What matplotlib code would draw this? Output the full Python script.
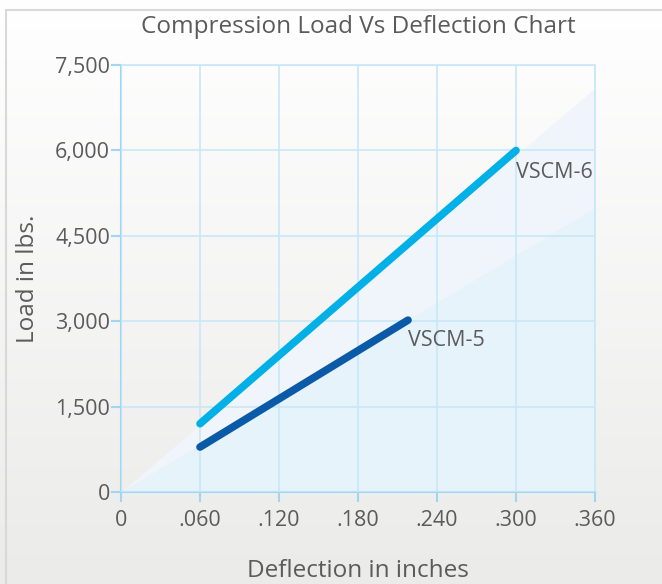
import numpy as np
import matplotlib
matplotlib.use('Agg')
import matplotlib.pyplot as plt
from matplotlib.patches import Rectangle

plt.rcParams['font.family'] = ['Open Sans', 'DejaVu Sans']

# data
series_names = ['VSCM-6', 'VSCM-5']
vscm6_x = [0.060, 0.300]
vscm6_y = [1200, 6000]
vscm5_x = [0.060, 0.218]
vscm5_y = [790, 3020]
band_x = [0, 0.360]
band_upper = [0, 7100]
band_lower = [0, 5000]
x_ticks = [0, 0.060, 0.120, 0.180, 0.240, 0.300, 0.360]
x_labels = ['0', '.060', '.120', '.180', '.240', '.300', '.360']
y_ticks = [0, 1500, 3000, 4500, 6000, 7500]
y_labels = ['0', '1,500', '3,000', '4,500', '6,000', '7,500']

text_color = '#5b5b5b'
grid_color = '#c8e7f8'

fig = plt.figure(figsize=(6.62, 5.84), dpi=100)

# background gradient over the whole figure
bg = fig.add_axes([0, 0, 1, 1], zorder=-10)
grad = np.linspace(1.0, 0.0, 256).reshape(-1, 1)
bg.imshow(grad, aspect='auto', cmap=matplotlib.colors.LinearSegmentedColormap.from_list(
    'bg', ['#ebebea', '#ffffff']), extent=[0, 1, 0, 1], vmin=0, vmax=1)
bg.add_patch(Rectangle((0.009, -0.01), 1.1, 0.993, fill=False, edgecolor='#d8d8d8', lw=1.5))
bg.set_xlim(0, 1)
bg.set_ylim(0, 1)
bg.axis('off')

ax = fig.add_axes([0.1828, 0.1575, 0.716, 0.731])
ax.set_facecolor('none')

# shaded wedges from origin
ax.fill_between(band_x, band_lower, band_upper, color='#f0f5fb', lw=0, zorder=1)
ax.fill_between(band_x, 0, band_lower, color='#e6f3fa', lw=0, zorder=1)

ax.plot(vscm6_x, vscm6_y, color='#00b0e6', lw=5.5, solid_capstyle='round', zorder=4)
ax.plot(vscm5_x, vscm5_y, color='#0a5aa8', lw=5.5, solid_capstyle='round', zorder=4)

ax.annotate(series_names[0], (vscm6_x[1], vscm6_y[1]), xytext=(0, -8), textcoords='offset points',
            ha='left', va='top', fontsize=15.5, color=text_color, zorder=5)
ax.annotate(series_names[1], (vscm5_x[1], vscm5_y[1]), xytext=(0, -7), textcoords='offset points',
            ha='left', va='top', fontsize=15.5, color=text_color, zorder=5)

ax.set_xlim(0, 0.360)
ax.set_ylim(0, 7500)
ax.set_xticks(x_ticks)
ax.set_xticklabels(x_labels)
ax.set_yticks(y_ticks)
ax.set_yticklabels(y_labels)
ax.grid(True, color=grid_color, lw=1.2, zorder=2)
ax.set_axisbelow(False)
for side in ['top', 'right']:
    ax.spines[side].set_color(grid_color)
    ax.spines[side].set_linewidth(1.2)
for side in ['left', 'bottom']:
    ax.spines[side].set_color('#9fd6f2')
    ax.spines[side].set_linewidth(1.5)
ax.tick_params(axis='both', colors='#9fd6f2', length=7, width=1.5, labelsize=15.5,
               labelcolor=text_color)
ax.tick_params(axis='x', pad=6)
ax.tick_params(axis='y', pad=1)

ax.set_title('Compression Load Vs Deflection Chart', fontsize=17.5, color=text_color, pad=23)
ax.set_xlabel('Deflection in inches', fontsize=17.5, color=text_color, labelpad=20)
ax.set_ylabel('Load in lbs.', fontsize=17.5, color=text_color, labelpad=11)

fig.savefig('out.png', dpi=100)
